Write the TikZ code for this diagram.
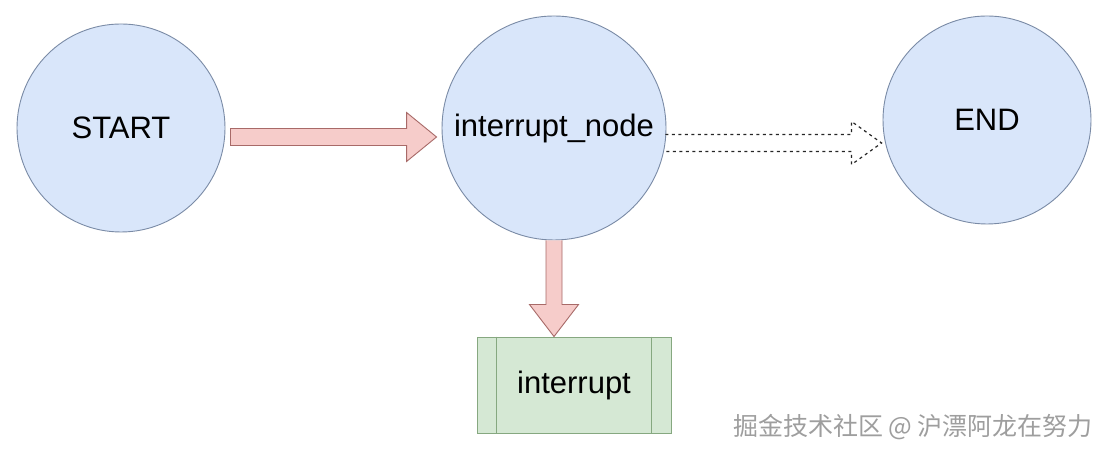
\documentclass[tikz,border=0pt]{standalone}
\usepackage{fontspec}
\setmainfont{Liberation Sans}
\newfontfamily\cjkfont{Noto Sans CJK SC}
\usetikzlibrary{calc}
\definecolor{statefill}{HTML}{D9E6FA}
\definecolor{stateline}{HTML}{7A8BA6}
\definecolor{arrowfill}{HTML}{F6CCCA}
\definecolor{arrowline}{HTML}{A86A68}
\definecolor{boxfill}{HTML}{D5E8D4}
\definecolor{boxline}{HTML}{86A880}

\begin{document}
\begin{tikzpicture}[x=1pt,y=1pt,
    state/.style={circle,draw=stateline,fill=statefill,line width=0.9pt,
      inner sep=0pt,font=\fontsize{31}{37}\selectfont},
    blockarrow/.style={draw=arrowline,fill=arrowfill,line width=0.9pt,line join=miter},
    dasharrow/.style={draw=black!85,line width=1.2pt,dash pattern=on 3pt off 3.5pt},
    process/.style={rectangle,draw=boxline,fill=boxfill,line width=0.9pt,
      minimum width=194pt,minimum height=96pt,font=\fontsize{31}{37}\selectfont}]
  \useasboundingbox (0,0) rectangle (1108,454);
  \fill[white] (0,0) rectangle (1108,454);
  % states
  \node[state,minimum size=208pt] (start) at (121,326) {START};
  \node[state,minimum size=224pt] (inode) at (554,326) {interrupt\_node};
  \node[state,minimum size=208pt] (end) at (987,334) {END};
  \node[process] (box) at (574,69) {interrupt};
  \draw[boxline,line width=0.9pt] ($(box.north west)+(20,0)$) -- ($(box.south west)+(20,0)$);
  \draw[boxline,line width=0.9pt] ($(box.north east)+(-20,0)$) -- ($(box.south east)+(-20,0)$);
  % arrows
  \draw[blockarrow] let \p1=($(start.east)+(5,-9)$), \p2=($(inode.west)+(-5,-9)$) in
    (\x1,\y1+8.5) -- (\x2-30,\y1+8.5) -- (\x2-30,\y1+24.5) -- (\x2,\y1)
    -- (\x2-30,\y1-24.5) -- (\x2-30,\y1-8.5) -- (\x1,\y1-8.5) -- cycle;
  \draw[dasharrow] let \p1=($(inode.east)+(-1,-15)$), \p2=($(end.west)+(-1,-23)$) in
    (\x1,\y1+8.5) -- (\x2-30,\y1+8.5) -- (\x2-30,\y1+21.5) -- (\x2,\y1)
    -- (\x2-30,\y1-21.5) -- (\x2-30,\y1-8.5) -- (\x1,\y1-8.5);
  \draw[blockarrow] let \p1=(inode.south), \p2=($(box.north)+(-20,0)$) in
    (\x1-8,\y1) -- (\x1-8,\y2+32) -- (\x1-24.5,\y2+32) -- (\x1,\y2)
    -- (\x1+24.5,\y2+32) -- (\x1+8,\y2+32) -- (\x1+8,\y1);
  % watermark
  \node[text=black!38,font=\cjkfont\fontsize{25}{30}\selectfont] (mark) at (913,27)
    {掘金技术社区 @ 沪漂阿龙在努力};
\end{tikzpicture}
\end{document}
